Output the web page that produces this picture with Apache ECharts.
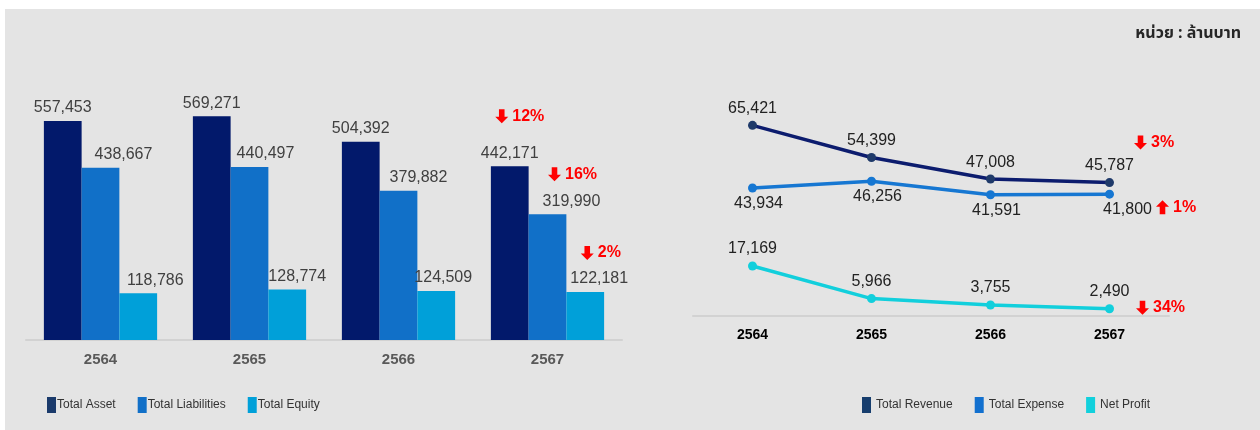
<!DOCTYPE html>
<html><head><meta charset="utf-8">
<script src="https://cdn.jsdelivr.net/npm/echarts@6/dist/echarts.min.js"></script>
<style>
html,body{margin:0;padding:0;background:#fff;}
#bg{position:absolute;left:5px;top:9px;width:1255px;height:421px;background:#e4e4e4;}
#chart{position:absolute;left:0;top:0;width:1260px;height:430px;}
</style></head>
<body>
<div id="bg"></div>
<div id="chart"></div>
<script>
const categories = ['2564', '2565', '2566', '2567'];
const totalAsset = [557453, 569271, 504392, 442171];
const totalLiabilities = [438667, 440497, 379882, 319990];
const totalEquity = [118786, 128774, 124509, 122181];
const totalRevenue = [65421, 54399, 47008, 45787];
const totalExpense = [43934, 46256, 41591, 41800];
const netProfit = [17169, 5966, 3755, 2490];
const barChangeLabels = ['12%', '16%', '2%'];
const barChangeDirs = ['down', 'down', 'down'];
const lineChangeLabels = ['3%', '1%', '34%'];
const lineChangeDirs = ['down', 'up', 'down'];
const unitText = 'หน่วย : ล้านบาท';

const FONT = 'Arial, "Liberation Sans", sans-serif';
const DOWN = 'path://M4,0 L10,0 L10,8 L14,8 L7,15 L0,8 L4,8 Z';
const UP = 'path://M4,15 L10,15 L10,7 L14,7 L7,0 L0,7 L4,7 Z';
const fmt = v => v.toLocaleString('en-US');

function changeMark(idx, value, label, dir, offset) {
  return {
    silent: true,
    animation: false,
    data: [{
      coord: [categories[idx], value],
      symbol: dir === 'down' ? DOWN : UP,
      symbolSize: [13, 14],
      symbolOffset: offset,
      itemStyle: { color: '#ff0000' },
      label: {
        show: true, position: 'right', distance: 4,
        formatter: label,
        color: '#ff0000', fontWeight: 'bold', fontSize: 16, fontFamily: FONT
      }
    }]
  };
}

const last = categories.length - 1;
const barColors = ['#02196b', '#1170c8', '#00a0d9'];
const lineColors = ['#0c1c6e', '#1677d2', '#12cfdc'];

// label horizontal nudges (styling only)
const liabNudge = [23, 16, 20, 24];
const equityNudge = [17, 10, 7, 14];
const expenseNudge = [6, 6, 6, 18];

const withNudge = (values, nudges) => values.map((v, i) => ({ value: v, label: { offset: [nudges[i], 0] } }));

const chart = echarts.init(document.getElementById('chart'), null, { renderer: 'canvas' });
const barLabel = () => ({
  show: true, position: 'top', distance: 5,
  color: '#404040', fontSize: 16, fontFamily: FONT, formatter: p => fmt(p.value)
});
const lineLabel = (pos, dist) => ({
  show: true, position: pos, distance: dist,
  color: '#222222', fontSize: 16, fontFamily: FONT, formatter: p => fmt(p.value)
});

chart.setOption({
  backgroundColor: 'transparent',
  animation: false,
  textStyle: { fontFamily: FONT },
  graphic: [{
    type: 'text', right: 19, top: 27,
    style: { text: unitText, fontSize: 16, fontWeight: 'bold', fill: '#262626',
      fontFamily: '"Noto Sans Thai", "Noto Sans Thai UI", "Noto Sans", Tahoma, sans-serif' }
  }],
  legend: [{
    left: 42, top: 392, itemWidth: 9, itemHeight: 16, itemGap: 22, icon: 'rect',
    textStyle: { fontSize: 12, color: '#333', fontFamily: FONT, padding: [0, 0, 0, -4] },
    data: [
      { name: 'Total Asset', itemStyle: { color: '#1a3a6b' } },
      { name: 'Total Liabilities', itemStyle: { color: '#1170c8' } },
      { name: 'Total Equity', itemStyle: { color: '#00a0d9' } }
    ]
  }, {
    left: 857, top: 392, itemWidth: 9, itemHeight: 16, itemGap: 22, icon: 'rect',
    textStyle: { fontSize: 12, color: '#333', fontFamily: FONT },
    data: [
      { name: 'Total Revenue', itemStyle: { color: '#173e6e' } },
      { name: 'Total Expense', itemStyle: { color: '#1270cf' } },
      { name: 'Net Profit', itemStyle: { color: '#12d0dc' } }
    ]
  }],
  grid: [
    { left: 26, right: 638, top: 104.3, bottom: 90 },
    { left: 693, right: 91, top: 112, bottom: 114 }
  ],
  xAxis: [{
    type: 'category', gridIndex: 0, data: categories,
    axisLine: { lineStyle: { color: '#d2d2d2', width: 2 } }, axisTick: { show: false },
    axisLabel: { color: '#595959', fontWeight: 'bold', fontSize: 15, margin: 12, fontFamily: FONT }
  }, {
    type: 'category', gridIndex: 1, data: categories,
    axisLine: { lineStyle: { color: '#d2d2d2', width: 2 } }, axisTick: { show: false },
    axisLabel: { color: '#000', fontWeight: 'bold', fontSize: 14, margin: 12, fontFamily: FONT }
  }],
  yAxis: [{
    type: 'value', gridIndex: 0, min: 0, max: 600000, show: false, splitLine: { show: false }
  }, {
    type: 'value', gridIndex: 1, min: 0, max: 70000, show: false, splitLine: { show: false }
  }],
  series: [
    { name: 'Total Asset', type: 'bar', xAxisIndex: 0, yAxisIndex: 0, data: totalAsset,
      barGap: '0%', barCategoryGap: '24%', itemStyle: { color: barColors[0] }, label: barLabel(),
      markPoint: changeMark(last, totalAsset[last], barChangeLabels[0], barChangeDirs[0], [-8, -50]) },
    { name: 'Total Liabilities', type: 'bar', xAxisIndex: 0, yAxisIndex: 0, data: withNudge(totalLiabilities, liabNudge),
      barGap: '0%', barCategoryGap: '24%', itemStyle: { color: barColors[1] }, label: barLabel(),
      markPoint: changeMark(last, totalLiabilities[last], barChangeLabels[1], barChangeDirs[1], [7, -40]) },
    { name: 'Total Equity', type: 'bar', xAxisIndex: 0, yAxisIndex: 0, data: withNudge(totalEquity, equityNudge),
      barGap: '0%', barCategoryGap: '24%', itemStyle: { color: barColors[2] }, label: barLabel(),
      markPoint: changeMark(last, totalEquity[last], barChangeLabels[2], barChangeDirs[2], [2, -39]) },
    { name: 'Total Revenue', type: 'line', xAxisIndex: 1, yAxisIndex: 1, data: totalRevenue,
      symbol: 'circle', symbolSize: 9, lineStyle: { color: lineColors[0], width: 3.5 },
      itemStyle: { color: '#1f3a6a' }, label: lineLabel('top', 4),
      markPoint: changeMark(last, totalRevenue[last], lineChangeLabels[0], lineChangeDirs[0], [31, -40]) },
    { name: 'Total Expense', type: 'line', xAxisIndex: 1, yAxisIndex: 1, data: withNudge(totalExpense, expenseNudge),
      symbol: 'circle', symbolSize: 9, lineStyle: { color: lineColors[1], width: 3.5 },
      itemStyle: { color: lineColors[1] }, label: lineLabel('bottom', 3),
      markPoint: changeMark(last, totalExpense[last], lineChangeLabels[1], lineChangeDirs[1], [53, 13]) },
    { name: 'Net Profit', type: 'line', xAxisIndex: 1, yAxisIndex: 1, data: netProfit,
      symbol: 'circle', symbolSize: 9, lineStyle: { color: lineColors[2], width: 3.5 },
      itemStyle: { color: lineColors[2] }, label: lineLabel('top', 5),
      markPoint: changeMark(last, netProfit[last], lineChangeLabels[2], lineChangeDirs[2], [33, -1]) }
  ]
});
</script>
</body></html>
